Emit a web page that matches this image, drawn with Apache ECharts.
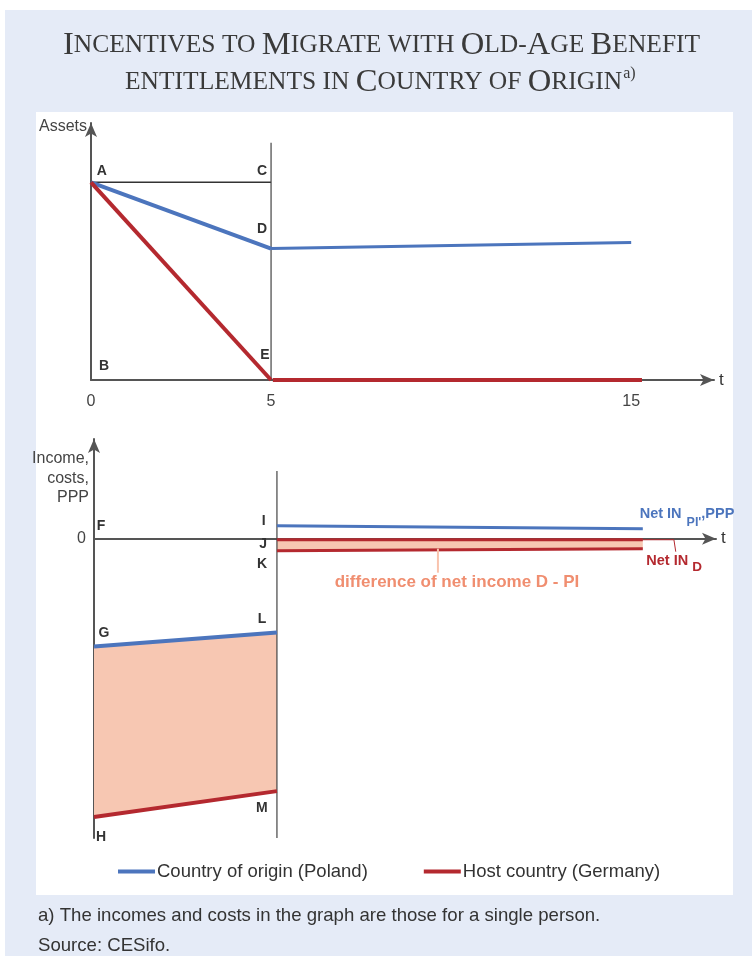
<!DOCTYPE html>
<html><head><meta charset="utf-8">
<script src="https://cdn.jsdelivr.net/npm/echarts@6/dist/echarts.min.js"></script>
<style>html,body{margin:0;padding:0;background:#fff}#c{width:752px;height:956px}</style>
</head><body><div id="c"></div>
<script>
// ---------- data ----------
const titleLine1 = "Incentives to Migrate with Old-Age Benefit";
const titleLine2 = "entitlements in Country of Origin";
const seriesNames = ["Country of origin (Poland)", "Host country (Germany)"];
const topTickLabels = [0, 5, 15];
// Assets panel (t, assets)
const assetsCorner = [[0, 10], [5, 10]];            // A - C
const assetsDivider = [[5, 0], [5, 12]];            // vertical at t=5
const assetsOriginSlope = [[0, 10], [5, 6.65]];     // A - D
const assetsOriginFlat = [[5, 6.65], [15, 6.95]];
const assetsHostSlope = [[0, 10], [5, 0]];          // A - E
const assetsHostFlat = [[5.05, 0], [15.3, 0]];
const topLetters = [["A", 0.3, 10.55], ["C", 4.75, 10.55], ["D", 4.75, 7.65], ["E", 4.83, 1.26], ["B", 0.36, 0.71]];
// Income panel (t, income/costs)
const incomeDivider = [[5, -30], [5, 6.8]];
const incomeOriginBefore = [[0, -10.8], [5, -9.4]];   // G - L
const incomeHostBefore = [[0, -27.9], [5, -25.3]];    // H - M
const netOriginAfter = [[5, 1.3], [15, 1.0]];         // Net IN PI
const netHostUpper = [[5, -0.1], [15, -0.1]];
const netHostLower = [[5, -1.2], [15, -1.0]];         // Net IN D
const netHostLeader = [[15, -0.1], [15.85, -0.1], [15.9, -1.3]];
const diffLeader = [[9.4, -1.0], [9.4, -3.4]];
const bottomLetters = [["F", 0.19, 1.3], ["I", 4.64, 1.8], ["J", 4.62, -0.5], ["K", 4.59, -2.5], ["G", 0.27, -9.42], ["L", 4.59, -8.02], ["M", 4.59, -26.97], ["H", 0.19, -29.9]];
const noteLines = ["a) The incomes and costs in the graph are those for a single person.", "Source: CESifo."];

// ---------- styles ----------
const BLUE = '#4c75bd', RED = '#b4292f', PINK = '#f7c7b2', SALMON = '#f08e70', AXIS = '#555';
const SANS = 'Liberation Sans, Arial, sans-serif';
const SERIF = 'Liberation Serif, Times New Roman, serif';

function smallCaps(str) {
  let out = '', cur = null, buf = '';
  for (const ch of str) {
    const big = ch !== ch.toLowerCase();
    const k = big ? 'b' : 's';
    if (k !== cur) { if (buf) out += '{' + cur + '|' + buf + '}'; buf = ''; cur = k; }
    buf += ch.toUpperCase();
  }
  if (buf) out += '{' + cur + '|' + buf + '}';
  return out;
}

const chart = echarts.init(document.getElementById('c'), null, {renderer: 'canvas'});
const CLEAR = 'rgba(0,0,0,0)';

function lineS(name, data, color, width, xi, z) {
  return {type: 'line', name, data, xAxisIndex: xi, yAxisIndex: xi, symbol: 'none', silent: true,
    lineStyle: {color, width, cap: 'butt'}, itemStyle: {color}, z: z || 3, animation: false};
}
function letters(arr, xi) {
  return {type: 'scatter', name: 'letters' + xi, xAxisIndex: xi, yAxisIndex: xi, symbolSize: 1, silent: true,
    itemStyle: {color: CLEAR, opacity: 1}, animation: false, z: 6,
    data: arr.map(d => ({name: d[0], value: [d[1], d[2]]})),
    label: {show: true, position: 'inside', formatter: p => p.name, color: '#333', fontWeight: 'bold', fontSize: 14, fontFamily: SANS}};
}
function poly(points, xi) {
  return {type: 'custom', xAxisIndex: xi, yAxisIndex: xi, silent: true, animation: false, z: 1, data: [0],
    renderItem: (params, api) => ({type: 'polygon', shape: {points: points.map(p => api.coord(p))}, style: {fill: PINK}})};
}
function textPt(text, x, y, xi, style) {
  return {type: 'scatter', xAxisIndex: xi, yAxisIndex: xi, symbolSize: 1, silent: true, itemStyle: {color: CLEAR, opacity: 1}, animation: false, z: 7,
    data: [{value: [x, y]}], label: Object.assign({show: true, formatter: text}, style)};
}

const axisLine = {show: true, lineStyle: {color: AXIS, width: 2}, symbol: ['none', 'arrow'], symbolSize: [9, 14], onZero: true};
const titleRich = {
  b: {fontSize: 32.6, fontFamily: SERIF, fontWeight: 'normal', color: '#3a3a3a', lineHeight: 36},
  s: {fontSize: 25.5, fontFamily: SERIF, fontWeight: 'normal', color: '#3a3a3a', lineHeight: 36},
  sup: {fontSize: 16, fontFamily: SERIF, fontWeight: 'normal', color: '#3a3a3a', padding: [0, 0, 16, 1], lineHeight: 36}
};

const option = {
  backgroundColor: '#fff',
  animation: false,
  title: [
    {text: smallCaps(titleLine1), left: 63, top: 27, padding: 0,
      textStyle: {color: '#3a3a3a', fontFamily: SERIF, fontWeight: 'normal', lineHeight: 36, rich: titleRich}},
    {text: smallCaps(titleLine2) + '{sup|a)}', left: 125, top: 64, padding: 0,
      textStyle: {color: '#3a3a3a', fontFamily: SERIF, fontWeight: 'normal', lineHeight: 36, rich: titleRich}}
  ],
  graphic: [
    {type: 'rect', shape: {x: 5, y: 10, width: 747, height: 946}, style: {fill: '#e5ebf7'}, z: -10, silent: true},
    {type: 'rect', shape: {x: 36, y: 112, width: 697, height: 783}, style: {fill: '#ffffff'}, z: -9, silent: true},
    {type: 'text', left: 38, top: 906, style: {text: noteLines[0], fill: '#333', font: '18.6px ' + SANS}, z: 5},
    {type: 'text', left: 38, top: 936, style: {text: noteLines[1], fill: '#333', font: '18.6px ' + SANS}, z: 5}
  ],
  legend: {
    data: seriesNames, left: 118, top: 862, padding: 0, itemWidth: 37, itemHeight: 4, itemGap: 56, icon: 'rect',
    textStyle: {color: '#333', fontSize: 18.5, fontFamily: SANS, padding: [0, 0, 0, -3]}, selectedMode: false
  },
  grid: [
    {left: 91, top: 123, width: 623, height: 257, containLabel: false},
    {left: 94, top: 439, width: 622, height: 399, containLabel: false}
  ],
  xAxis: [
    {type: 'value', gridIndex: 0, min: 0, max: 17.3, interval: 5, name: 't', nameLocation: 'end', nameGap: 5,
      nameTextStyle: {color: '#333', fontSize: 17, fontFamily: SANS, verticalAlign: 'middle'},
      axisLine, axisTick: {show: false}, splitLine: {show: false},
      axisLabel: {color: '#444', fontSize: 16, fontFamily: SANS, margin: 14, showMaxLabel: false,
        formatter: v => topTickLabels.indexOf(v) >= 0 ? String(v) : ''}},
    {type: 'value', gridIndex: 1, min: 0, max: 17.0, name: 't', nameLocation: 'end', nameGap: 5,
      nameTextStyle: {color: '#333', fontSize: 17, fontFamily: SANS, verticalAlign: 'middle'},
      axisLine, axisTick: {show: false}, splitLine: {show: false}, axisLabel: {show: false}}
  ],
  yAxis: [
    {type: 'value', gridIndex: 0, min: 0, max: 13, name: 'Assets', nameLocation: 'end', nameGap: -4,
      nameTextStyle: {color: '#444', fontSize: 16, fontFamily: SANS, align: 'right', verticalAlign: 'middle', padding: [0, 4, 0, 0]},
      axisLine, axisTick: {show: false}, splitLine: {show: false}, axisLabel: {show: false}},
    {type: 'value', gridIndex: 1, min: -30, max: 10, interval: 10, name: 'Income,\ncosts,\nPPP', nameLocation: 'end', nameGap: -10,
      nameTextStyle: {color: '#444', fontSize: 16, fontFamily: SANS, align: 'right', verticalAlign: 'top', lineHeight: 19.5, padding: [0, 5, 0, 0]},
      axisLine, axisTick: {show: false}, splitLine: {show: false},
      axisLabel: {color: '#444', fontSize: 16, fontFamily: SANS, margin: 8, formatter: v => v === 0 ? '0' : ''}}
  ],
  series: [
    lineS('guide1', assetsCorner, '#333', 1.5, 0, 2),
    lineS('guide2', assetsDivider, '#444', 1.2, 0, 2),
    lineS(seriesNames[0], assetsOriginSlope, BLUE, 4, 0),
    lineS(seriesNames[0], assetsOriginFlat, BLUE, 3, 0),
    lineS(seriesNames[1], assetsHostSlope, RED, 4, 0),
    lineS(seriesNames[1], assetsHostFlat, RED, 4, 0),
    letters(topLetters, 0),

    poly([incomeOriginBefore[0], incomeOriginBefore[1], incomeHostBefore[1], incomeHostBefore[0]], 1),
    poly([netHostUpper[0], netHostUpper[1], netHostLower[1], netHostLower[0]], 1),
    lineS('guide3', incomeDivider, '#444', 1.2, 1, 2),
    lineS(seriesNames[0], incomeOriginBefore, BLUE, 4, 1),
    lineS(seriesNames[1], incomeHostBefore, RED, 4, 1),
    lineS(seriesNames[0], netOriginAfter, BLUE, 3, 1),
    lineS(seriesNames[1], netHostUpper, RED, 3, 1),
    lineS(seriesNames[1], netHostLower, RED, 3, 1),
    lineS('leaderD', netHostLeader, RED, 1, 1),
    lineS('leaderDiff', diffLeader, '#f9c3ad', 2, 1),
    letters(bottomLetters, 1),
    textPt('{a|Net IN}{s|PI\'}{a|,PPP}', 14.9, 2.5, 1, {position: 'right', distance: 0, color: BLUE, fontWeight: 'bold', fontFamily: SANS,
      rich: {a: {fontSize: 14.5, fontWeight: 'bold', color: BLUE, fontFamily: SANS}, s: {fontSize: 12.5, fontWeight: 'bold', color: BLUE, fontFamily: SANS, padding: [18, 0, 0, 5]}}}),
    textPt('{a|Net IN}{s|D}', 15.08, -2.2, 1, {position: 'right', distance: 0, color: RED, fontWeight: 'bold', fontFamily: SANS,
      rich: {a: {fontSize: 14.5, fontWeight: 'bold', color: RED, fontFamily: SANS}, s: {fontSize: 13.5, fontWeight: 'bold', color: RED, fontFamily: SANS, padding: [13, 0, 0, 4]}}}),
    textPt('difference of net income D - PI', 9.92, -4.4, 1, {position: 'inside', color: SALMON, fontWeight: 'bold', fontSize: 17, fontFamily: SANS})
  ]
};
chart.setOption(option);
</script></body></html>
